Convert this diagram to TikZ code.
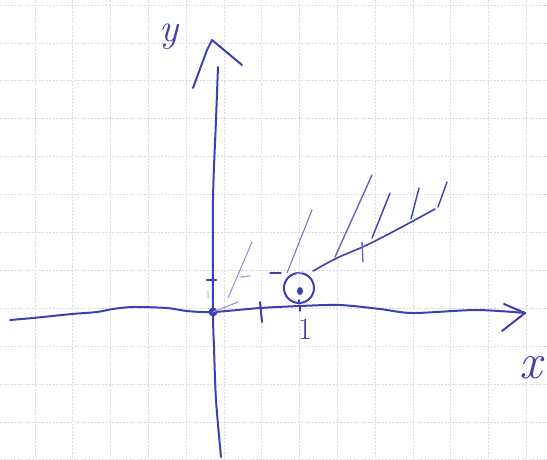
\documentclass[tikz,border=0pt]{standalone}
\usepackage{amsmath,amssymb}
\usepackage{fontspec}
\usepackage{xcolor}
\usepackage{tikz}
\definecolor{ink}{RGB}{62,64,178}
\definecolor{paleink}{RGB}{150,152,218}
\definecolor{gridgray}{RGB}{218,218,228}

\begin{document}
\begin{tikzpicture}[x=1pt,y=-1pt,
  pen/.style={draw=ink,line width=2pt,line cap=round,line join=round},
  hatch/.style={draw=ink,line width=1.4pt,line cap=round},
  faint/.style={draw=paleink,line width=1.1pt,line cap=round},
  gridline/.style={draw=gridgray,line width=0.7pt,dash pattern=on 2pt off 1.5pt}]
\useasboundingbox[fill=white] (0,0) rectangle (547,459);
\foreach \k in {0,...,13} \draw[gridline] ({35+37.8*\k},0) -- ({35+37.8*\k},459);
\foreach \k in {0,...,12} \draw[gridline] (0,{5+37.9*\k}) -- (547,{5+37.9*\k});

\coordinate (O) at (213,312);
\coordinate (P) at (299,288);
\coordinate (xtip) at (525,313);
\coordinate (ytip) at (212,40);

\draw[pen] plot[smooth] coordinates {(10,320) (33,318) (72,314) (97,312) (113,309) (133,307) (167,308) (187,311) (O) (260,308) (300,306) (340,305) (380,309) (413,313) (476,310) (xtip)};
\draw[pen] (504,304) -- (xtip) -- (502,331);
\draw[pen] plot[smooth] coordinates {(221,457) (216,400) (214,347) (O) (213,200) (216,120) (218,67)};
\draw[pen] (193,88) -- (207,50) -- (ytip) -- (242,65);

\node[text=ink,inner sep=0pt,font=\fontsize{40}{40}\selectfont\itshape] (ylab) at (169,37) {y};
\node[text=ink,inner sep=0pt,font=\fontsize{50}{50}\selectfont\itshape] (xlab) at (531,368) {x};
\node[text=ink,inner sep=0pt,font=\fontsize{31}{31}\selectfont] (one) at (305,329) {1};
\node[text=paleink,inner sep=0pt,font=\fontsize{10}{10}\selectfont] (yone) at (208,295) {1};

\draw[pen] (260,302) -- (262,322);
\draw[hatch] (299,300) -- (299,304) (300,307) -- (300,311);
\draw[pen,line width=2.6pt] (207,280) -- (216,280);
\fill[ink] (O) circle[radius=4.5pt];

\draw[faint] (241,277) -- (250,276);
\draw[hatch] (270,273) -- (281,273);
\draw[pen] (P) circle[radius=15pt];
\fill[ink] (300,291) ellipse[x radius=3pt,y radius=4pt];
\draw[faint] (296,274) -- (303,272);

\draw[pen,line width=1.6pt] plot[smooth] coordinates {(313,271) (337,258) (367,245) (400,228) (435,209)};
\draw[faint] (O) -- (238,302);

\draw[faint] (228,298) -- (252,242);
\draw[faint,draw=ink!70] (287,273) -- (312,210);
\draw[hatch,draw=ink!80] (335,257) -- (372,175);
\draw[hatch,draw=ink!80] (362,242) -- (363,262);
\draw[hatch] (372,238) -- (390,193);
\draw[hatch] (411,219) -- (419,188);
\draw[hatch] (438,207) -- (447,182);
\end{tikzpicture}
\end{document}
